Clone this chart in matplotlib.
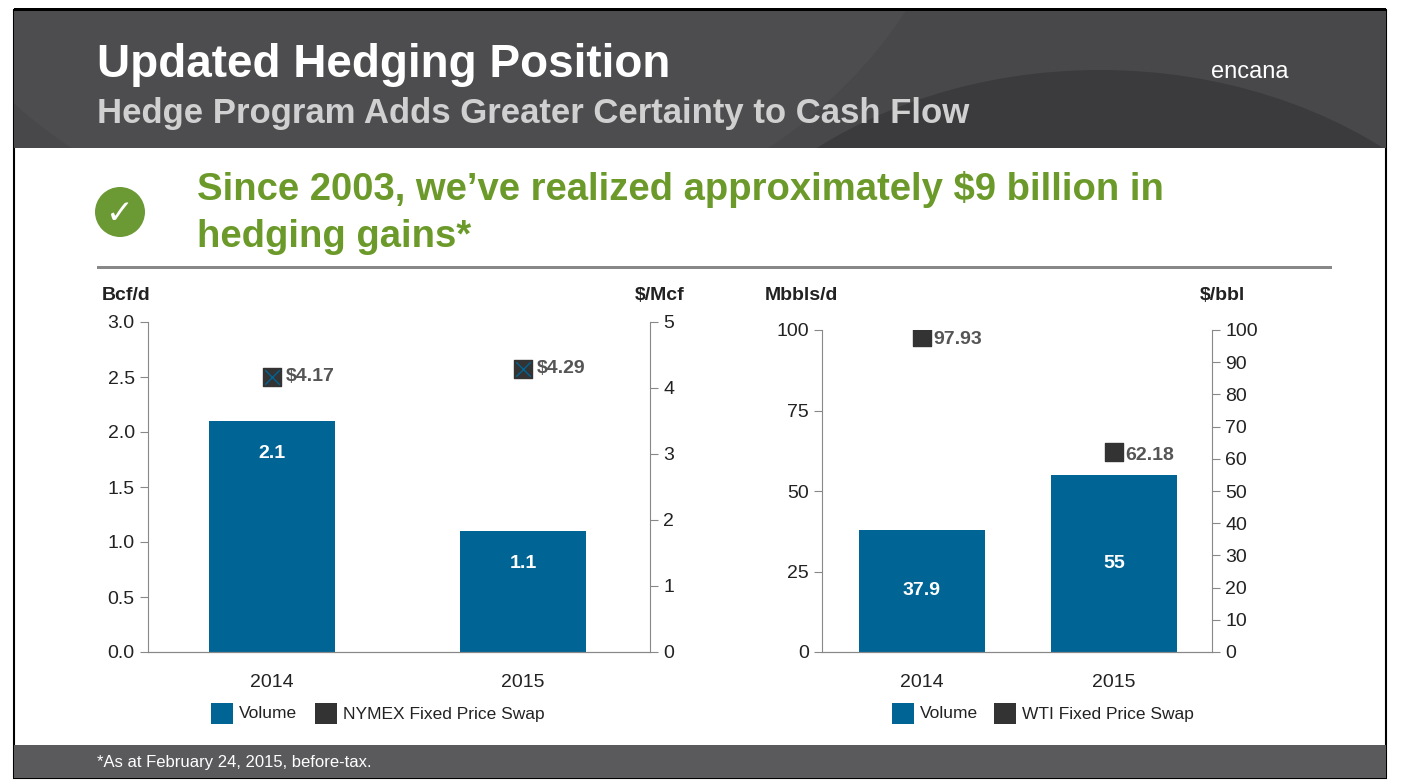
import matplotlib
matplotlib.use("Agg")
import matplotlib.pyplot as plt
from matplotlib.patches import Rectangle, Ellipse

plt.rcParams['font.family'] = ['Liberation Sans', 'DejaVu Sans']

gas_years = ["2014", "2015"]
gas_volume = [2.1, 1.1]
gas_volume_labels = ["2.1", "1.1"]
gas_price = [4.17, 4.29]
gas_price_labels = ["$4.17", "$4.29"]

oil_years = ["2014", "2015"]
oil_volume = [37.9, 55]
oil_volume_labels = ["37.9", "55"]
oil_price = [97.93, 62.18]
oil_price_labels = ["97.93", "62.18"]

BLUE = "#006494"
DARK = "#333333"
TXT = "#222222"
W, H = 1403, 784

fig = plt.figure(figsize=(14.03, 7.84), dpi=100)

def px(x, y):
    return x / W, 1 - y / H

def rect_px(x0, y0, x1, y1, **kw):
    r = Rectangle(px(x0, y1), (x1 - x0) / W, (y1 - y0) / H, transform=fig.transFigure, **kw)
    fig.patches.append(r)
    return r

# frame and header
rect_px(14, 10, 1386, 778, facecolor="white", edgecolor="black", lw=1.5, zorder=0)
hdr = rect_px(14, 10, 1386, 148, facecolor="#48474a", edgecolor="none", zorder=1)
for cx, cy, w, h, c in [(1100, 420, 900, 700, "#3b3a3d"), (420, -200, 1100, 900, "#4d4c4f")]:
    e = Ellipse(px(cx, cy), w / W, h / H, transform=fig.transFigure,
                facecolor=c, edgecolor="none", zorder=1.2)
    fig.patches.append(e)
    e.set_clip_path(hdr)
rect_px(14, 745, 1386, 778, facecolor="#5a595c", edgecolor="none", zorder=1.5)
rect_px(14, 8, 1386, 11, facecolor="black", edgecolor="none", zorder=2)

fig.text(*px(97, 65), "Updated Hedging Position", color="white", fontsize=33,
         fontweight="bold", va="center", zorder=3)
fig.text(*px(97, 114), "Hedge Program Adds Greater Certainty to Cash Flow",
         color="#d0d0d0", fontsize=25, fontweight="bold", va="center", zorder=3)
fig.text(*px(1250, 72), "encana", color="white", fontsize=17, ha="center", va="center", zorder=3)
fig.text(*px(97, 763), "*As at February 24, 2015, before-tax.", color="white",
         fontsize=12, va="center", zorder=3)

fig.patches.append(Ellipse(px(120, 212), 50 / W, 50 / H, transform=fig.transFigure,
                           facecolor="#6b9a35", edgecolor="none", zorder=3))
fig.text(*px(120, 213), "✓", color="white", fontsize=24, fontweight="bold",
         ha="center", va="center", family=["DejaVu Sans"], zorder=4)
fig.text(*px(197, 190), "Since 2003, we\u2019ve realized approximately $9 billion in",
         color="#6b9a2a", fontsize=27.5, fontweight="bold", va="center", zorder=3)
fig.text(*px(197, 237), "hedging gains*", color="#6b9a2a", fontsize=27.5,
         fontweight="bold", va="center", zorder=3)
rect_px(97, 266, 1332, 269, facecolor="#888888", edgecolor="none", zorder=3)

def make_axes(x0, x1, ytop):
    l, b = px(x0, 652)
    return fig.add_axes([l, b, (x1 - x0) / W, (652 - ytop) / H], zorder=5)

def style(ax):
    ax.patch.set_alpha(0)
    ax.spines["top"].set_visible(False)
    ax.tick_params(labelsize=14, colors=TXT, length=6, color="#888888")
    for s in ax.spines.values():
        s.set_color("#888888")

xs = [0, 1]

# Gas chart
ax = make_axes(148, 650, 322)
ax2 = ax.twinx()
ax.bar(xs, gas_volume, width=0.5, color=BLUE, zorder=2)
for x, v, lab in zip(xs, gas_volume, gas_volume_labels):
    ax.text(x, v - 0.3, lab, color="white", fontsize=14, fontweight="bold",
            ha="center", va="center")
ax.set_xlim(-0.494, 1.506)
ax.set_ylim(0, 3.0)
ax.set_yticks([0, 0.5, 1.0, 1.5, 2.0, 2.5, 3.0])
ax.set_yticklabels([f"{t:.1f}" for t in ax.get_yticks()])
ax.set_xticks(xs)
ax.set_xticklabels(gas_years)
ax2.set_ylim(0, 5)
ax2.set_yticks(range(6))
ax2.scatter(xs, gas_price, marker="s", s=180, color=DARK, zorder=4)
ax2.scatter(xs, gas_price, marker="x", s=110, color=BLUE, lw=1, zorder=5)
for x, v, lab in zip(xs, gas_price, gas_price_labels):
    ax2.text(x + 0.055, v, lab, color="#555555", fontsize=14, fontweight="bold", va="center")
for a in (ax, ax2):
    style(a)
ax.tick_params(axis="x", length=0, pad=16)
ax.spines["right"].set_visible(False)
ax2.spines["left"].set_visible(False)
fig.text(*px(102, 296), "Bcf/d", fontsize=14, fontweight="bold", color=TXT, va="center")
fig.text(*px(685, 296), "$/Mcf", fontsize=14, fontweight="bold", color=TXT, va="center", ha="right")

# Oil chart
bx = make_axes(822, 1212, 330)
bx2 = bx.twinx()
bx.bar(xs, oil_volume, width=0.66, color=BLUE, zorder=2)
for x, v, lab in zip(xs, oil_volume, oil_volume_labels):
    bx.text(x, v / 2, lab, color="white", fontsize=14, fontweight="bold",
            ha="center", va="center")
bx.set_xlim(-0.52, 1.51)
bx.set_ylim(0, 100)
bx.set_yticks([0, 25, 50, 75, 100])
bx.set_xticks(xs)
bx.set_xticklabels(oil_years)
bx2.set_ylim(0, 100)
bx2.set_yticks(range(0, 101, 10))
bx2.scatter(xs, oil_price, marker="s", s=180, color=DARK, zorder=4)
for x, v, lab in zip(xs, oil_price, oil_price_labels):
    bx2.text(x + 0.06, v - 1, lab, color="#555555", fontsize=14, fontweight="bold", va="center")
for a in (bx, bx2):
    style(a)
bx.tick_params(axis="x", length=0, pad=16)
bx.spines["right"].set_visible(False)
bx2.spines["left"].set_visible(False)
fig.text(*px(765, 296), "Mbbls/d", fontsize=14, fontweight="bold", color=TXT, va="center")
fig.text(*px(1245, 296), "$/bbl", fontsize=14, fontweight="bold", color=TXT, va="center", ha="right")

# legends
def legend_item(x, label, color):
    rect_px(x, 703, x + 22, 724, facecolor=color, edgecolor="none", zorder=6)
    fig.text(*px(x + 28, 714), label, fontsize=12.5, color=TXT, va="center", zorder=6)

legend_item(211, "Volume", BLUE)
legend_item(315, "NYMEX Fixed Price Swap", DARK)
legend_item(892, "Volume", BLUE)
legend_item(994, "WTI Fixed Price Swap", DARK)

fig.savefig("out.png", dpi=100)
